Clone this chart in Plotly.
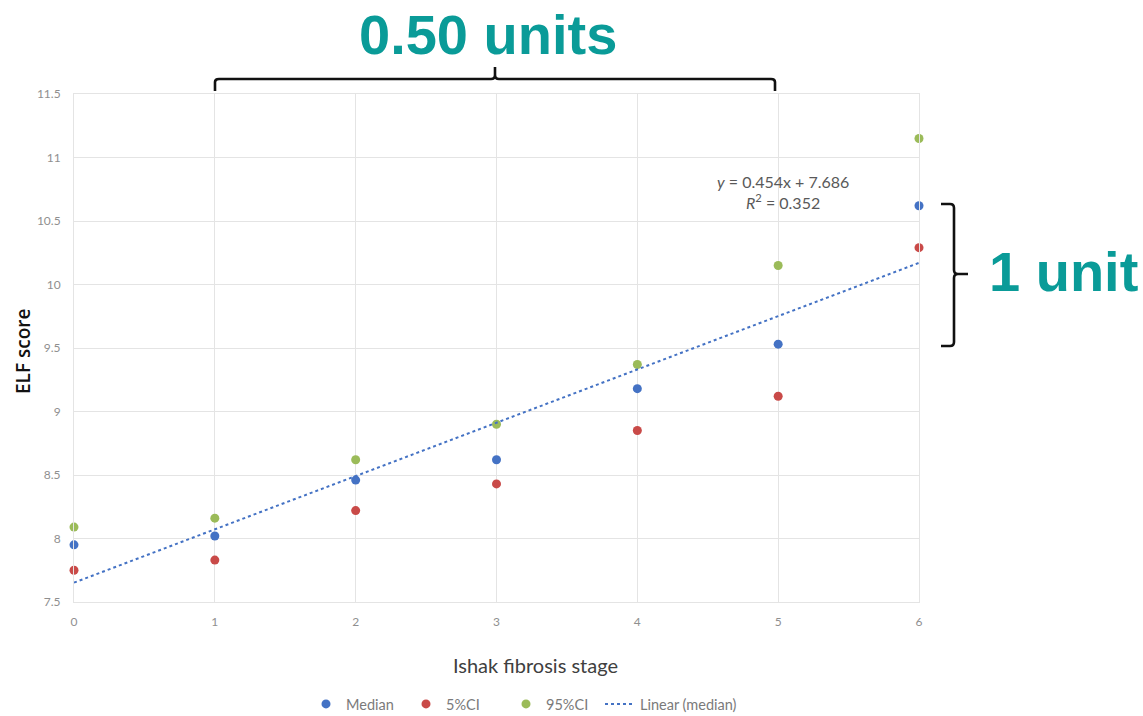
import numpy as np
import plotly.graph_objects as go

stages = [0, 1, 2, 3, 4, 5, 6]
median = [7.95, 8.02, 8.46, 8.62, 9.18, 9.53, 10.62]
ci5 = [7.75, 7.83, 8.22, 8.43, 8.85, 9.12, 10.29]
ci95 = [8.09, 8.16, 8.62, 8.90, 9.37, 10.15, 11.15]
y_ticks = [7.5, 8, 8.5, 9, 9.5, 10, 10.5, 11, 11.5]
y_tick_text = ["7.5", "8", "8.5", "9", "9.5", "10", "10.5", "11", "11.5"]

slope, intercept = np.polyfit(stages, median, 1)
trend_x = [stages[0], stages[-1]]
trend_y = [intercept + slope * v for v in trend_x]

FONT = "Lato"
BIG_FONT = "Liberation Sans"
TEAL = "#0a9b98"
fig = go.Figure()
fig.add_trace(go.Scatter(x=stages, y=median, mode="markers", name="Median",
                         marker=dict(color="#4472C4", size=9), cliponaxis=False))
fig.add_trace(go.Scatter(x=stages, y=ci5, mode="markers", name="5%CI",
                         marker=dict(color="#C94A48", size=9), cliponaxis=False))
fig.add_trace(go.Scatter(x=stages, y=ci95, mode="markers", name="95%CI",
                         marker=dict(color="#9BBB59", size=9), cliponaxis=False))
fig.add_trace(go.Scatter(x=trend_x, y=trend_y, mode="lines", name="Linear (median)",
                         line=dict(color="#4472C4", width=2, dash="dot"), cliponaxis=False,
                         legend="legend2"))

grid = "#e4e4e4"
fig.update_xaxes(range=[0, 6], tickvals=stages, ticktext=[str(s) for s in stages],
                 showgrid=True, gridcolor=grid, gridwidth=1, zeroline=False,
                 showline=True, linecolor=grid, mirror=True, ticks="",
                 ticklabelstandoff=9, automargin=False,
                 tickfont=dict(family=FONT, size=12, color="#8f8f8f"))
fig.update_yaxes(range=[7.5, 11.5], tickvals=y_ticks, ticktext=y_tick_text,
                 showgrid=True, gridcolor=grid, gridwidth=1, zeroline=False,
                 showline=True, linecolor=grid, mirror=True, ticks="",
                 ticklabelstandoff=10, automargin=False,
                 tickfont=dict(family=FONT, size=12, color="#8f8f8f"))

# Plot area on screen: x 74..919, y 94..602 -> helpers to paper coords
def px_x(p):
    return (p - 74) / 845.0

def px_y(p):
    return (602 - p) / 508.0

top_path = (f"M {px_x(215)},{px_y(91)} L {px_x(215)},{px_y(82)} Q {px_x(215)},{px_y(79)} {px_x(219)},{px_y(79)} "
            f"L {px_x(491)},{px_y(79)} Q {px_x(495)},{px_y(79)} {px_x(495)},{px_y(75)} L {px_x(495)},{px_y(67)} "
            f"M {px_x(495)},{px_y(75)} Q {px_x(495)},{px_y(79)} {px_x(499)},{px_y(79)} "
            f"L {px_x(771)},{px_y(79)} Q {px_x(775)},{px_y(79)} {px_x(775)},{px_y(82)} L {px_x(775)},{px_y(91)}")
right_path = (f"M {px_x(941)},{px_y(204)} L {px_x(950)},{px_y(204)} Q {px_x(954)},{px_y(204)} {px_x(954)},{px_y(208)} "
              f"L {px_x(954)},{px_y(270)} Q {px_x(954)},{px_y(274)} {px_x(958)},{px_y(274)} L {px_x(968)},{px_y(274)} "
              f"M {px_x(958)},{px_y(274)} Q {px_x(954)},{px_y(274)} {px_x(954)},{px_y(278)} "
              f"L {px_x(954)},{px_y(342)} Q {px_x(954)},{px_y(346)} {px_x(950)},{px_y(346)} L {px_x(941)},{px_y(346)}")
for p in (top_path, right_path):
    fig.add_shape(type="path", path=p, xref="paper", yref="paper",
                  line=dict(color="#111111", width=2.6))

fig.add_annotation(x=px_x(488), y=px_y(0.5), xref="paper", yref="paper", showarrow=False,
                   text="<b>0.50 units</b>", xanchor="center", yanchor="top",
                   font=dict(family=BIG_FONT, size=56, color=TEAL))
fig.add_annotation(x=px_x(987), y=px_y(271), xref="paper", yref="paper", showarrow=False,
                   text="<b>1 unit</b>", xanchor="left", yanchor="middle",
                   font=dict(family=BIG_FONT, size=56, color=TEAL))
fig.add_annotation(x=px_x(783), y=px_y(181), xref="paper", yref="paper", showarrow=False,
                   text="<i>y</i> = 0.454x + 7.686", xanchor="center", yanchor="middle",
                   font=dict(family=FONT, size=16, color="#595959"))
fig.add_annotation(x=px_x(783), y=px_y(201), xref="paper", yref="paper", showarrow=False,
                   text="<i>R</i><sup>2</sup> = 0.352", xanchor="center", yanchor="middle",
                   font=dict(family=FONT, size=16, color="#595959"))
# Axis titles
fig.add_annotation(x=px_x(535), y=px_y(665), xref="paper", yref="paper", showarrow=False,
                   text="Ishak fibrosis stage", xanchor="center", yanchor="middle",
                   font=dict(family=FONT, size=20, color="#404040"))
fig.add_annotation(x=px_x(23), y=px_y(352), xref="paper", yref="paper", showarrow=False,
                   text="ELF score", textangle=-90, xanchor="center", yanchor="middle",
                   font=dict(family="Open Sans", size=19, color="#111111", weight=600))

legend_font = dict(family=FONT, size=14.5, color="#7a7a7a")
fig.update_layout(
    width=1143, height=716,
    margin=dict(l=74, r=224, t=94, b=114, autoexpand=False),
    paper_bgcolor="white", plot_bgcolor="white",
    showlegend=True,
    legend=dict(orientation="h", x=px_x(306), y=px_y(704), xanchor="left", yanchor="middle",
                font=legend_font, itemwidth=30, tracegroupgap=0,
                entrywidth=55, entrywidthmode="pixels"),
    legend2=dict(orientation="h", x=px_x(600), y=px_y(704), xanchor="left", yanchor="middle",
                 font=legend_font, itemwidth=30, tracegroupgap=0),
)

fig.write_html("out.html", config={"displayModeBar": False},
               post_script="document.body.style.margin='0px';")
